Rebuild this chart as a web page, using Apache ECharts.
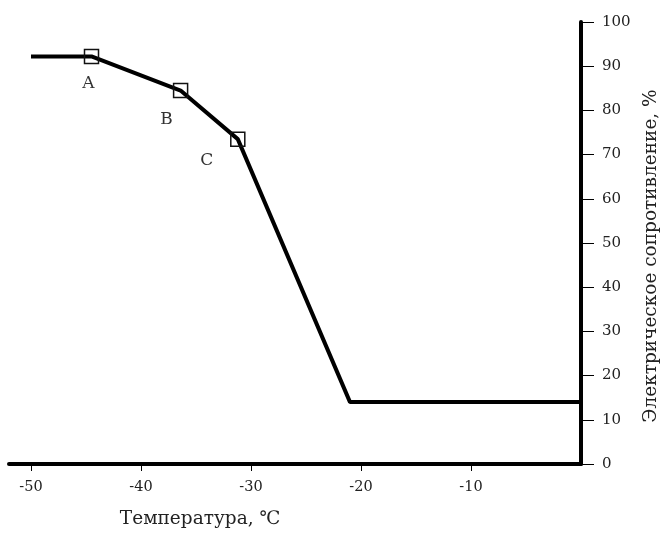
<!DOCTYPE html>
<html>
<head>
<meta charset="utf-8">
<script src="https://cdn.jsdelivr.net/npm/echarts@6/dist/echarts.min.js"></script>
<style>html,body{margin:0;padding:0;background:#fff;}#c{width:660px;height:533px;}</style>
</head>
<body>
<div id="c"></div>
<script>
var temps = [-50, -44.5, -36.4, -31.2, -21, 0];
var resistance = [92.2, 92.2, 84.5, 73.5, 14, 14];
var pointNames = ['', 'A', 'B', 'C', '', ''];
var xTicks = [-50, -40, -30, -20, -10];
var yTicks = [0, 10, 20, 30, 40, 50, 60, 70, 80, 90, 100];
var xName = 'Температура, ℃';
var yName = 'Электрическое сопротивление, %';

var font = 'DejaVu Serif';
var labelOffsets = {A: [-3, 27], B: [-14, 29], C: [-31, 21]};

var data = temps.map(function (t, i) {
  var d = {value: [t, resistance[i]], name: pointNames[i]};
  if (pointNames[i]) {
    d.symbol = 'rect';
    d.symbolSize = 14;
    d.label = {show: true, formatter: pointNames[i], position: 'inside', offset: labelOffsets[pointNames[i]],
      fontFamily: font, fontSize: 17, color: '#333'};
  } else {
    d.symbol = 'none';
  }
  return d;
});

var chart = echarts.init(document.getElementById('c'));
chart.setOption({
  animation: false,
  grid: {left: 9, right: 79, top: 22, bottom: 69, outerBoundsMode: 'none', containLabel: false},
  xAxis: {
    type: 'value', min: -52, max: 0,
    name: xName, nameLocation: 'middle', nameGap: 46,
    nameTextStyle: {fontFamily: font, fontSize: 18.5, color: '#222', padding: [0, 190, 0, 0]},
    axisLine: {show: true, onZero: false, lineStyle: {color: '#000', width: 4}},
    axisTick: {show: true, length: 7, lineStyle: {color: '#000', width: 1}, customValues: xTicks},
    axisLabel: {fontFamily: font, fontSize: 14.5, color: '#222', margin: 16, customValues: xTicks},
    splitLine: {show: false}
  },
  yAxis: {
    type: 'value', min: 0, max: 100, interval: 10, position: 'right',
    name: yName, nameLocation: 'middle', nameGap: 60,
    nameTextStyle: {fontFamily: font, fontSize: 18.5, color: '#222', padding: [0, 26, 0, 0]},
    axisLine: {show: true, onZero: false, lineStyle: {color: '#000', width: 4}},
    axisTick: {show: true, inside: false, length: 13, lineStyle: {color: '#000', width: 1}},
    axisLabel: {fontFamily: font, fontSize: 15, color: '#222', margin: 21,
      customValues: yTicks},
    splitLine: {show: false}
  },
  series: [{
    type: 'line',
    data: data,
    showSymbol: true,
    lineStyle: {color: '#000', width: 4},
    itemStyle: {color: 'rgba(0,0,0,0)', borderColor: '#111', borderWidth: 1.5},
    z: 3
  }]
});
</script>
</body>
</html>
